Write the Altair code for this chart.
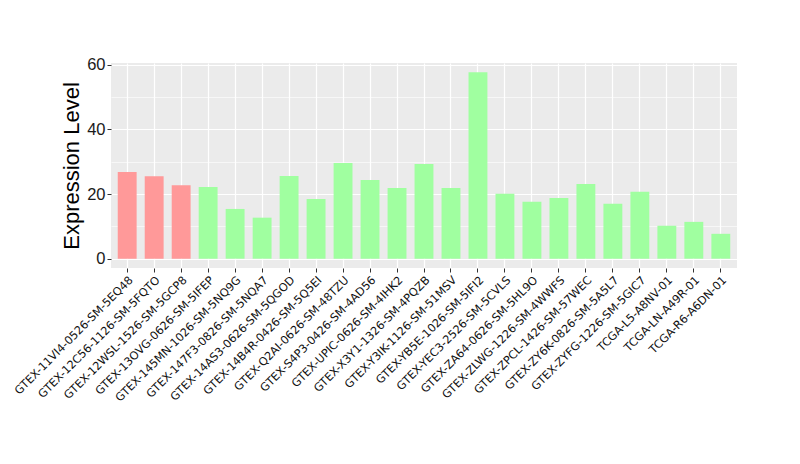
import altair as alt
import pandas as pd

samples = [
    "GTEX-11VI4-0526-SM-5EQ48", "GTEX-12C56-1126-SM-5FQTO", "GTEX-12WSL-1526-SM-5GCP8",
    "GTEX-13OVG-0626-SM-5IFEP", "GTEX-145MN-1026-SM-5NQ9G", "GTEX-147F3-0826-SM-5NQA7",
    "GTEX-14AS3-0626-SM-5QGOD", "GTEX-14B4R-0426-SM-5Q5EI", "GTEX-Q2AI-0626-SM-48TZU",
    "GTEX-S4P3-0426-SM-4AD56", "GTEX-UPIC-0626-SM-4IHK2", "GTEX-X3Y1-1326-SM-4PQZB",
    "GTEX-Y3IK-1126-SM-51MSV", "GTEX-YB5E-1026-SM-5IFI2", "GTEX-YEC3-2526-SM-5CVLS",
    "GTEX-ZA64-0626-SM-5HL9O", "GTEX-ZLWG-1226-SM-4WWFS", "GTEX-ZPCL-1426-SM-57WEC",
    "GTEX-ZY6K-0826-SM-5A5L7", "GTEX-ZYFG-1226-SM-5GIC7", "TCGA-L5-A8NV-01",
    "TCGA-LN-A49R-01", "TCGA-R6-A6DN-01",
]
values = [26.8, 25.5, 22.7, 22.2, 15.4, 12.7, 25.6, 18.5, 29.6, 24.4, 21.9, 29.3,
          21.9, 57.7, 20.1, 17.6, 18.8, 23.1, 17.0, 20.7, 10.2, 11.4, 7.7]
groups = ["red"] * 3 + ["green"] * 20
group_colors = ["#FF9999", "#A0FFA0"]

df = pd.DataFrame({"sample": samples, "value": values, "group": groups})

chart = alt.Chart(df).mark_bar().encode(
    x=alt.X("sample:N", sort=samples,
            scale=alt.Scale(paddingInner=0.3, paddingOuter=0.25),
            axis=alt.Axis(title=None, labelAngle=-45, labelAlign="right",
                          labelBaseline="top", labelFont="DejaVu Sans",
                          labelFontSize=11.3, labelColor="#111111",
                          tickColor="#333333", tickSize=4, labelPadding=2,
                          grid=True, gridColor="white", gridWidth=1.2,
                          domain=False, labelOverlap=False)),
    y=alt.Y("value:Q",
            scale=alt.Scale(domain=[-2.88, 60.58], nice=False, zero=False),
            axis=alt.Axis(title="Expression Level", values=[0, 10, 20, 30, 40, 50, 60],
                          labelExpr="datum.value % 20 === 0 ? datum.label : ''",
                          tickOpacity={"condition": {"test": "datum.value % 20 === 0", "value": 1}, "value": 0},
                          gridWidth={"condition": {"test": "datum.value % 20 === 0", "value": 1.2}, "value": 0.6},
                          gridColor="white", tickColor="#333333", tickSize=4,
                          labelFont="Liberation Sans", labelFontSize=16.5,
                          labelColor="#1a1a1a", labelPadding=2,
                          titleFont="Liberation Sans", titleFontSize=22,
                          titleFontWeight="normal", titleColor="black",
                          titlePadding=3, domain=False)),
    color=alt.Color("group:N", scale=alt.Scale(domain=["red", "green"], range=group_colors),
                    legend=None),
).properties(
    width=626, height=205,
    autosize=alt.AutoSizeParams(type="none"),
    padding={"left": 103, "top": 55, "right": 55, "bottom": 180},
).configure_view(
    fill="#EBEBEB", stroke=None
)

chart.save("out.html", embed_options={"renderer": "svg", "actions": False})
